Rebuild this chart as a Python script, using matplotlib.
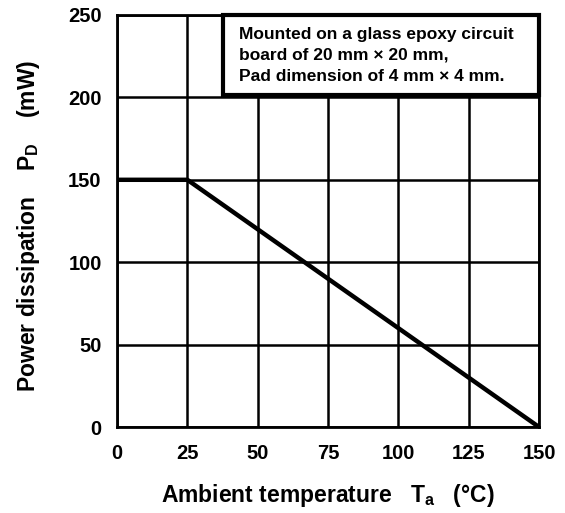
import matplotlib
matplotlib.use("Agg")
import matplotlib.pyplot as plt
from matplotlib.patches import Rectangle

plt.rcParams['font.family'] = ['Liberation Sans', 'DejaVu Sans']
plt.rcParams['font.weight'] = 'bold'
plt.rcParams['mathtext.fontset'] = 'custom'
plt.rcParams['mathtext.rm'] = 'Liberation Sans:bold'
plt.rcParams['mathtext.bf'] = 'Liberation Sans:bold'
plt.rcParams['mathtext.it'] = 'Liberation Sans:bold'

# derating curve
temp = [0, 25, 150]
power = [150, 150, 0]

x_ticks = [0, 25, 50, 75, 100, 125, 150]
y_ticks = [0, 50, 100, 150, 200, 250]

note = ("Mounted on a glass epoxy circuit\n"
        "board of 20 mm \u00d7 20 mm,\n"
        "Pad dimension of 4 mm \u00d7 4 mm.")

fig = plt.figure(figsize=(5.65, 5.13), dpi=100)
ax = fig.add_axes([0.2071, 0.1676, 0.7469, 0.8032])

ax.set_xlim(0, 150)
ax.set_ylim(0, 250)
ax.set_xticks(x_ticks)
ax.set_yticks(y_ticks)
ax.tick_params(length=0, labelsize=14.5)
ax.tick_params(axis='x', pad=12)
ax.tick_params(axis='y', pad=11)
for lbl in ax.get_xticklabels() + ax.get_yticklabels():
    lbl.set_fontweight('bold')

ax.grid(True, color='black', linewidth=1.8)
ax.set_axisbelow(True)
for s in ax.spines.values():
    s.set_linewidth(2)
    s.set_color('black')

ax.plot(temp, power, color='black', linewidth=3.2, solid_capstyle='butt', zorder=3)

# note box in the upper right
ax.add_patch(Rectangle((37.7, 201.5), 112.3, 48.5, facecolor='white', edgecolor='black',
                       linewidth=3, zorder=4, clip_on=False))
ax.text(43.5, 243, note, fontsize=12.5, fontweight='bold', va='top', ha='left',
        linespacing=1.5, zorder=5)

ax.set_xlabel("Ambient temperature   $\\mathbf{T_a}$   (\u00b0C)", fontsize=16.5,
              fontweight='bold', labelpad=14)
ax.set_ylabel("Power dissipation    $\\mathbf{P_D}$    (mW)", fontsize=16.5,
              fontweight='bold')
ax.yaxis.set_label_coords(-0.178, 0.488)

fig.savefig("out.png", dpi=100)
